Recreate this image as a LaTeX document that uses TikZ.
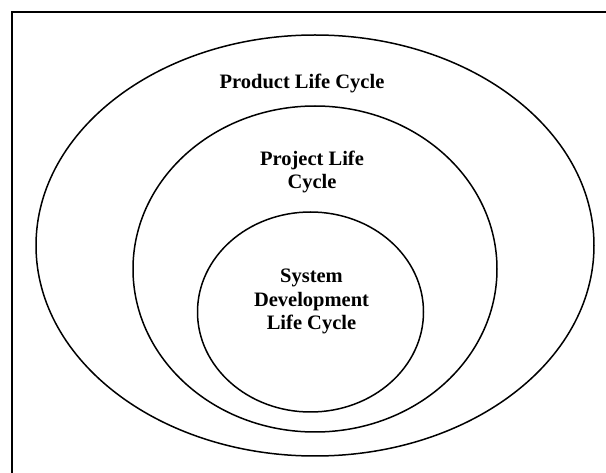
\documentclass[tikz,border=0pt]{standalone}
\usepackage{fontspec}
\setmainfont{Liberation Serif}
\begin{document}
\begin{tikzpicture}[x=1pt,y=-1pt,
  ring/.style={line width=1.5pt,black},
  frame/.style={line width=1.8pt,black},
  lbl/.style={font=\bfseries\fontsize{20.5}{23.6}\selectfont,align=center,inner sep=0pt,anchor=base}]
\useasboundingbox (0,0) rectangle (606,473);
\clip (0,0) rectangle (606,473);
\fill[white] (0,0) rectangle (606,473);
\draw[frame] (12,12) rectangle (640,500);
\draw[ring] (315,245.5) ellipse [x radius=279, y radius=210.5];
\draw[ring] (315,269) ellipse [x radius=182, y radius=163];
\draw[ring] (310.5,312) ellipse [x radius=113, y radius=100];
\node[lbl] (product) at (302,89) {Product Life Cycle};
\node[lbl] (project) at (312,189) {Project Life\\Cycle};
\node[lbl] (sdlc) at (311.5,330) {System\\Development\\Life Cycle};
\end{tikzpicture}
\end{document}
